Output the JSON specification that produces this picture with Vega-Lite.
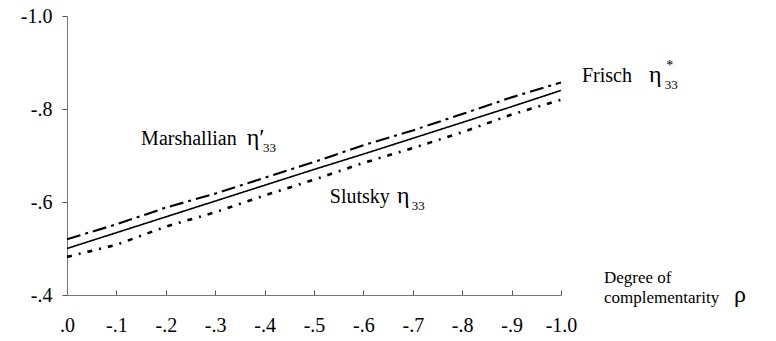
{
  "$schema": "https://vega.github.io/schema/vega-lite/v6.json",
  "width": 494,
  "height": 279,
  "autosize": {"type": "none"},
  "padding": {"left": 67, "top": 16, "right": 215, "bottom": 46},
  "background": "white",
  "config": {
    "view": {"stroke": null},
    "font": "Liberation Serif",
    "text": {"font": "Liberation Serif", "color": "black"}
  },
  "datasets": {
    "curves": [
      {"rho": 0.0, "eta": -0.500, "series": "Frisch"},
      {"rho": -0.1, "eta": -0.534, "series": "Frisch"},
      {"rho": -0.2, "eta": -0.568, "series": "Frisch"},
      {"rho": -0.3, "eta": -0.602, "series": "Frisch"},
      {"rho": -0.4, "eta": -0.636, "series": "Frisch"},
      {"rho": -0.5, "eta": -0.670, "series": "Frisch"},
      {"rho": -0.6, "eta": -0.703, "series": "Frisch"},
      {"rho": -0.7, "eta": -0.737, "series": "Frisch"},
      {"rho": -0.8, "eta": -0.771, "series": "Frisch"},
      {"rho": -0.9, "eta": -0.805, "series": "Frisch"},
      {"rho": -1.0, "eta": -0.840, "series": "Frisch"},
      {"rho": 0.0, "eta": -0.520, "series": "Marshallian"},
      {"rho": -0.1, "eta": -0.552, "series": "Marshallian"},
      {"rho": -0.2, "eta": -0.588, "series": "Marshallian"},
      {"rho": -0.3, "eta": -0.618, "series": "Marshallian"},
      {"rho": -0.4, "eta": -0.652, "series": "Marshallian"},
      {"rho": -0.5, "eta": -0.686, "series": "Marshallian"},
      {"rho": -0.6, "eta": -0.722, "series": "Marshallian"},
      {"rho": -0.7, "eta": -0.754, "series": "Marshallian"},
      {"rho": -0.8, "eta": -0.789, "series": "Marshallian"},
      {"rho": -0.9, "eta": -0.825, "series": "Marshallian"},
      {"rho": -1.0, "eta": -0.857, "series": "Marshallian"},
      {"rho": 0.0, "eta": -0.482, "series": "Slutsky"},
      {"rho": -0.1, "eta": -0.508, "series": "Slutsky"},
      {"rho": -0.2, "eta": -0.547, "series": "Slutsky"},
      {"rho": -0.3, "eta": -0.578, "series": "Slutsky"},
      {"rho": -0.4, "eta": -0.614, "series": "Slutsky"},
      {"rho": -0.5, "eta": -0.648, "series": "Slutsky"},
      {"rho": -0.6, "eta": -0.684, "series": "Slutsky"},
      {"rho": -0.7, "eta": -0.716, "series": "Slutsky"},
      {"rho": -0.8, "eta": -0.750, "series": "Slutsky"},
      {"rho": -0.9, "eta": -0.788, "series": "Slutsky"},
      {"rho": -1.0, "eta": -0.820, "series": "Slutsky"}
    ],
    "names": [
      {"rho": -1.0425, "eta": -0.858, "text": "Frisch"},
      {"rho": -0.150, "eta": -0.7225, "text": "Marshallian"},
      {"rho": -0.532, "eta": -0.598, "text": "Slutsky"}
    ],
    "symbols": [
      {"rho": -1.178, "eta": -0.858, "text": "η"},
      {"rho": -0.364, "eta": -0.7225, "text": "η′"},
      {"rho": -0.668, "eta": -0.598, "text": "η"}
    ],
    "subs": [
      {"rho": -1.210, "eta": -0.843, "text": "33"},
      {"rho": -0.397, "eta": -0.7075, "text": "33"},
      {"rho": -0.698, "eta": -0.583, "text": "33"}
    ],
    "sups": [
      {"rho": -1.213, "eta": -0.884, "text": "*"}
    ],
    "axisname": [
      {"rho": -1.087, "eta": -0.426, "text": "Degree of"},
      {"rho": -1.087, "eta": -0.383, "text": "complementarity"}
    ],
    "rhosym": [
      {"rho": -1.350, "eta": -0.385, "text": "ρ"}
    ]
  },
  "layer": [
    {
      "data": {"name": "curves"},
      "mark": {"type": "line", "color": "black", "strokeCap": "butt"},
      "encoding": {
        "x": {
          "field": "rho",
          "type": "quantitative",
          "scale": {"domain": [0, -1], "nice": false, "zero": false},
          "axis": {
            "values": [0, -0.1, -0.2, -0.3, -0.4, -0.5, -0.6, -0.7, -0.8, -0.9, -1.0],
            "labelExpr": "datum.value == 0 ? '.0' : (datum.value <= -0.99 ? '-1.0' : '-.' + round(-datum.value * 10))",
            "title": null,
            "grid": false,
            "domainColor": "#777777",
            "tickColor": "#555555",
            "tickSize": -5,
            "labelPadding": 25,
            "labelFont": "Liberation Serif",
            "labelFontSize": 20,
            "labelColor": "black",
            "labelBaseline": "top",
            "labelFlush": false,
            "labelOverlap": false
          }
        },
        "y": {
          "field": "eta",
          "type": "quantitative",
          "scale": {"domain": [-0.4, -1.0], "nice": false, "zero": false},
          "axis": {
            "values": [-0.4, -0.6, -0.8, -1.0],
            "labelExpr": "datum.value <= -0.99 ? '-1.0' : '-.' + round(-datum.value * 10)",
            "title": null,
            "grid": false,
            "domainColor": "#777777",
            "tickColor": "#555555",
            "tickSize": 5,
            "labelPadding": 10,
            "labelFont": "Liberation Serif",
            "labelFontSize": 20,
            "labelColor": "black",
            "labelFlush": false,
            "labelOverlap": false
          }
        },
        "detail": {"field": "series"},
        "strokeDash": {
          "field": "series",
          "type": "nominal",
          "scale": {"domain": ["Frisch", "Marshallian", "Slutsky"], "range": [[1, 0], [14, 5, 3, 5], [5, 7, 2, 7]]},
          "legend": null
        },
        "strokeWidth": {
          "field": "series",
          "type": "nominal",
          "scale": {"domain": ["Frisch", "Marshallian", "Slutsky"], "range": [1.6, 2.6, 2.2]},
          "legend": null
        }
      }
    },
    {
      "data": {"name": "names"},
      "mark": {"type": "text", "align": "left", "baseline": "alphabetic", "fontSize": 20},
      "encoding": {
        "x": {"field": "rho", "type": "quantitative"},
        "y": {"field": "eta", "type": "quantitative"},
        "text": {"field": "text"}
      }
    },
    {
      "data": {"name": "symbols"},
      "mark": {"type": "text", "align": "left", "baseline": "alphabetic", "fontSize": 24},
      "encoding": {
        "x": {"field": "rho", "type": "quantitative"},
        "y": {"field": "eta", "type": "quantitative"},
        "text": {"field": "text"}
      }
    },
    {
      "data": {"name": "subs"},
      "mark": {"type": "text", "align": "left", "baseline": "alphabetic", "fontSize": 13},
      "encoding": {
        "x": {"field": "rho", "type": "quantitative"},
        "y": {"field": "eta", "type": "quantitative"},
        "text": {"field": "text"}
      }
    },
    {
      "data": {"name": "sups"},
      "mark": {"type": "text", "align": "left", "baseline": "alphabetic", "fontSize": 14},
      "encoding": {
        "x": {"field": "rho", "type": "quantitative"},
        "y": {"field": "eta", "type": "quantitative"},
        "text": {"field": "text"}
      }
    },
    {
      "data": {"name": "axisname"},
      "mark": {"type": "text", "align": "left", "baseline": "alphabetic", "fontSize": 17},
      "encoding": {
        "x": {"field": "rho", "type": "quantitative"},
        "y": {"field": "eta", "type": "quantitative"},
        "text": {"field": "text"}
      }
    },
    {
      "data": {"name": "rhosym"},
      "mark": {"type": "text", "align": "left", "baseline": "alphabetic", "fontSize": 24},
      "encoding": {
        "x": {"field": "rho", "type": "quantitative"},
        "y": {"field": "eta", "type": "quantitative"},
        "text": {"field": "text"}
      }
    }
  ]
}
